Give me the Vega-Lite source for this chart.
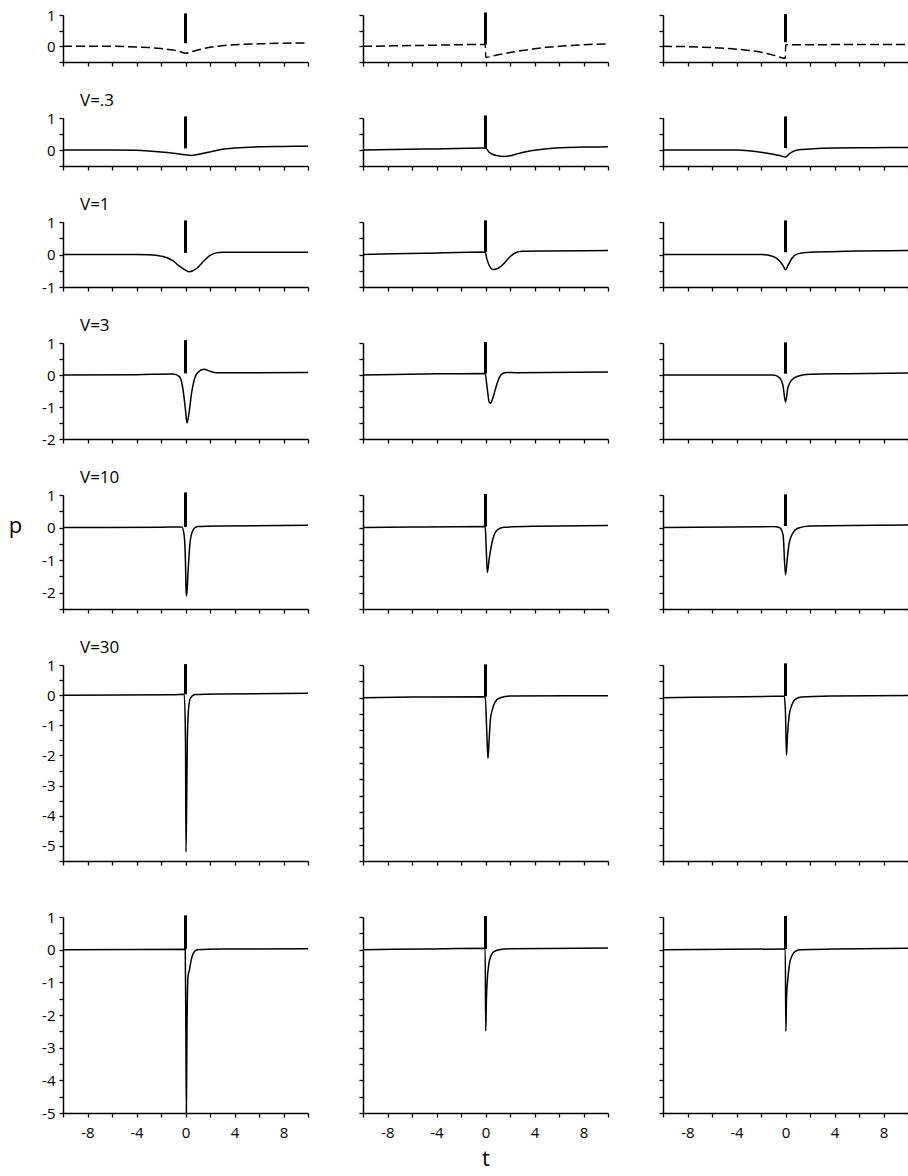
{
"$schema":"https://vega.github.io/schema/vega-lite/v6.json",
"padding":{"left":8,"top":8,"right":0,"bottom":4},
"background":"white",
"bounds":"flush",
"columns":3,
"spacing":{"row":56,"column":55},
"datasets":{
"curves":[
{"r":1,"c":1,"t":-10,"p":0},{"r":1,"c":1,"t":-6,"p":0},{"r":1,"c":1,"t":-4,"p":-0.02},{"r":1,"c":1,"t":-3,"p":-0.04},{"r":1,"c":1,"t":-2,"p":-0.07},{"r":1,"c":1,"t":-1,"p":-0.12},{"r":1,"c":1,"t":-0.5,"p":-0.16},{"r":1,"c":1,"t":0,"p":-0.22},{"r":1,"c":1,"t":0.5,"p":-0.17},{"r":1,"c":1,"t":1,"p":-0.12},{"r":1,"c":1,"t":1.5,"p":-0.07},{"r":1,"c":1,"t":2,"p":-0.03},{"r":1,"c":1,"t":3,"p":0.02},{"r":1,"c":1,"t":4,"p":0.05},{"r":1,"c":1,"t":6,"p":0.08},{"r":1,"c":1,"t":8,"p":0.1},{"r":1,"c":1,"t":10,"p":0.11},
{"r":1,"c":2,"t":-10,"p":0},{"r":1,"c":2,"t":-5,"p":0.03},{"r":1,"c":2,"t":-0.02,"p":0.06},{"r":1,"c":2,"t":0.02,"p":-0.35},{"r":1,"c":2,"t":1,"p":-0.27},{"r":1,"c":2,"t":2,"p":-0.2},{"r":1,"c":2,"t":3,"p":-0.13},{"r":1,"c":2,"t":4,"p":-0.08},{"r":1,"c":2,"t":5,"p":-0.03},{"r":1,"c":2,"t":6,"p":0},{"r":1,"c":2,"t":8,"p":0.05},{"r":1,"c":2,"t":10,"p":0.08},
{"r":1,"c":3,"t":-10,"p":0},{"r":1,"c":3,"t":-8,"p":-0.01},{"r":1,"c":3,"t":-6,"p":-0.04},{"r":1,"c":3,"t":-4,"p":-0.09},{"r":1,"c":3,"t":-3,"p":-0.13},{"r":1,"c":3,"t":-2,"p":-0.19},{"r":1,"c":3,"t":-1,"p":-0.28},{"r":1,"c":3,"t":-0.02,"p":-0.38},{"r":1,"c":3,"t":0.02,"p":0.05},{"r":1,"c":3,"t":2,"p":0.05},{"r":1,"c":3,"t":5,"p":0.06},{"r":1,"c":3,"t":10,"p":0.06},
{"r":2,"c":1,"t":-10,"p":0},{"r":2,"c":1,"t":-6,"p":0},{"r":2,"c":1,"t":-4,"p":-0.01},{"r":2,"c":1,"t":-3,"p":-0.03},{"r":2,"c":1,"t":-2,"p":-0.06},{"r":2,"c":1,"t":-1,"p":-0.1},{"r":2,"c":1,"t":0,"p":-0.15},{"r":2,"c":1,"t":0.5,"p":-0.17},{"r":2,"c":1,"t":1,"p":-0.14},{"r":2,"c":1,"t":2,"p":-0.06},{"r":2,"c":1,"t":3,"p":0.02},{"r":2,"c":1,"t":4,"p":0.06},{"r":2,"c":1,"t":6,"p":0.1},{"r":2,"c":1,"t":8,"p":0.11},{"r":2,"c":1,"t":10,"p":0.12},
{"r":2,"c":2,"t":-10,"p":0},{"r":2,"c":2,"t":-5,"p":0.03},{"r":2,"c":2,"t":0,"p":0.06},{"r":2,"c":2,"t":0.3,"p":-0.07},{"r":2,"c":2,"t":0.6,"p":-0.14},{"r":2,"c":2,"t":1,"p":-0.18},{"r":2,"c":2,"t":1.5,"p":-0.2},{"r":2,"c":2,"t":2,"p":-0.18},{"r":2,"c":2,"t":2.5,"p":-0.13},{"r":2,"c":2,"t":3,"p":-0.08},{"r":2,"c":2,"t":4,"p":-0.01},{"r":2,"c":2,"t":5,"p":0.04},{"r":2,"c":2,"t":6,"p":0.07},{"r":2,"c":2,"t":8,"p":0.09},{"r":2,"c":2,"t":10,"p":0.1},
{"r":2,"c":3,"t":-10,"p":0},{"r":2,"c":3,"t":-4,"p":0},{"r":2,"c":3,"t":-3,"p":-0.02},{"r":2,"c":3,"t":-2,"p":-0.07},{"r":2,"c":3,"t":-1,"p":-0.13},{"r":2,"c":3,"t":-0.5,"p":-0.17},{"r":2,"c":3,"t":0,"p":-0.22},{"r":2,"c":3,"t":0.3,"p":-0.12},{"r":2,"c":3,"t":0.6,"p":-0.05},{"r":2,"c":3,"t":1,"p":0},{"r":2,"c":3,"t":2,"p":0.03},{"r":2,"c":3,"t":4,"p":0.06},{"r":2,"c":3,"t":7,"p":0.07},{"r":2,"c":3,"t":10,"p":0.08},
{"r":3,"c":1,"t":-10,"p":0},{"r":3,"c":1,"t":-4,"p":0},{"r":3,"c":1,"t":-3,"p":-0.01},{"r":3,"c":1,"t":-2,"p":-0.05},{"r":3,"c":1,"t":-1.5,"p":-0.1},{"r":3,"c":1,"t":-1,"p":-0.2},{"r":3,"c":1,"t":-0.5,"p":-0.36},{"r":3,"c":1,"t":0,"p":-0.48},{"r":3,"c":1,"t":0.3,"p":-0.53},{"r":3,"c":1,"t":0.6,"p":-0.5},{"r":3,"c":1,"t":1,"p":-0.4},{"r":3,"c":1,"t":1.5,"p":-0.2},{"r":3,"c":1,"t":2,"p":-0.03},{"r":3,"c":1,"t":2.5,"p":0.05},{"r":3,"c":1,"t":3,"p":0.07},{"r":3,"c":1,"t":5,"p":0.07},{"r":3,"c":1,"t":10,"p":0.07},
{"r":3,"c":2,"t":-10,"p":0},{"r":3,"c":2,"t":-5,"p":0.04},{"r":3,"c":2,"t":-0.02,"p":0.08},{"r":3,"c":2,"t":0.1,"p":-0.12},{"r":3,"c":2,"t":0.3,"p":-0.33},{"r":3,"c":2,"t":0.6,"p":-0.46},{"r":3,"c":2,"t":1,"p":-0.43},{"r":3,"c":2,"t":1.5,"p":-0.28},{"r":3,"c":2,"t":2,"p":-0.07},{"r":3,"c":2,"t":2.5,"p":0.06},{"r":3,"c":2,"t":3,"p":0.1},{"r":3,"c":2,"t":5,"p":0.11},{"r":3,"c":2,"t":10,"p":0.12},
{"r":3,"c":3,"t":-10,"p":0},{"r":3,"c":3,"t":-2,"p":0},{"r":3,"c":3,"t":-1,"p":-0.06},{"r":3,"c":3,"t":-0.5,"p":-0.19},{"r":3,"c":3,"t":-0.2,"p":-0.34},{"r":3,"c":3,"t":0,"p":-0.47},{"r":3,"c":3,"t":0.2,"p":-0.34},{"r":3,"c":3,"t":0.5,"p":-0.13},{"r":3,"c":3,"t":1,"p":0.02},{"r":3,"c":3,"t":2,"p":0.07},{"r":3,"c":3,"t":5,"p":0.1},{"r":3,"c":3,"t":10,"p":0.12},
{"r":4,"c":1,"t":-10,"p":0},{"r":4,"c":1,"t":-4,"p":0.01},{"r":4,"c":1,"t":-1,"p":0.03},{"r":4,"c":1,"t":-0.5,"p":-0.05},{"r":4,"c":1,"t":-0.3,"p":-0.25},{"r":4,"c":1,"t":-0.15,"p":-0.6},{"r":4,"c":1,"t":0,"p":-1.1},{"r":4,"c":1,"t":0.12,"p":-1.5},{"r":4,"c":1,"t":0.3,"p":-1.15},{"r":4,"c":1,"t":0.5,"p":-0.55},{"r":4,"c":1,"t":0.75,"p":-0.1},{"r":4,"c":1,"t":1,"p":0.08},{"r":4,"c":1,"t":1.5,"p":0.18},{"r":4,"c":1,"t":2,"p":0.12},{"r":4,"c":1,"t":2.5,"p":0.07},{"r":4,"c":1,"t":4,"p":0.07},{"r":4,"c":1,"t":10,"p":0.08},
{"r":4,"c":2,"t":-10,"p":0},{"r":4,"c":2,"t":-5,"p":0.03},{"r":4,"c":2,"t":-0.02,"p":0.05},{"r":4,"c":2,"t":0.1,"p":-0.29},{"r":4,"c":2,"t":0.2,"p":-0.6},{"r":4,"c":2,"t":0.3,"p":-0.85},{"r":4,"c":2,"t":0.4,"p":-0.88},{"r":4,"c":2,"t":0.6,"p":-0.72},{"r":4,"c":2,"t":0.8,"p":-0.45},{"r":4,"c":2,"t":1,"p":-0.2},{"r":4,"c":2,"t":1.3,"p":0.02},{"r":4,"c":2,"t":1.7,"p":0.08},{"r":4,"c":2,"t":2.5,"p":0.07},{"r":4,"c":2,"t":10,"p":0.09},
{"r":4,"c":3,"t":-10,"p":0},{"r":4,"c":3,"t":-1,"p":0},{"r":4,"c":3,"t":-0.5,"p":-0.08},{"r":4,"c":3,"t":-0.2,"p":-0.34},{"r":4,"c":3,"t":0,"p":-0.85},{"r":4,"c":3,"t":0.2,"p":-0.39},{"r":4,"c":3,"t":0.5,"p":-0.16},{"r":4,"c":3,"t":1,"p":-0.04},{"r":4,"c":3,"t":2,"p":0.02},{"r":4,"c":3,"t":5,"p":0.04},{"r":4,"c":3,"t":10,"p":0.06},
{"r":5,"c":1,"t":-10,"p":0},{"r":5,"c":1,"t":-2,"p":0.01},{"r":5,"c":1,"t":-0.3,"p":0.02},{"r":5,"c":1,"t":-0.1,"p":-0.26},{"r":5,"c":1,"t":0,"p":-1.1},{"r":5,"c":1,"t":0.05,"p":-1.95},{"r":5,"c":1,"t":0.1,"p":-2.1},{"r":5,"c":1,"t":0.2,"p":-1.42},{"r":5,"c":1,"t":0.4,"p":-0.37},{"r":5,"c":1,"t":0.7,"p":-0.03},{"r":5,"c":1,"t":1,"p":0.03},{"r":5,"c":1,"t":3,"p":0.05},{"r":5,"c":1,"t":10,"p":0.07},
{"r":5,"c":2,"t":-10,"p":0},{"r":5,"c":2,"t":-5,"p":0.02},{"r":5,"c":2,"t":-0.02,"p":0.03},{"r":5,"c":2,"t":0.05,"p":-0.55},{"r":5,"c":2,"t":0.15,"p":-1.38},{"r":5,"c":2,"t":0.3,"p":-0.96},{"r":5,"c":2,"t":0.6,"p":-0.35},{"r":5,"c":2,"t":1,"p":-0.06},{"r":5,"c":2,"t":1.5,"p":0.01},{"r":5,"c":2,"t":4,"p":0.04},{"r":5,"c":2,"t":10,"p":0.06},
{"r":5,"c":3,"t":-10,"p":0},{"r":5,"c":3,"t":-1,"p":0.03},{"r":5,"c":3,"t":-0.5,"p":0},{"r":5,"c":3,"t":-0.2,"p":-0.22},{"r":5,"c":3,"t":0,"p":-1.45},{"r":5,"c":3,"t":0.15,"p":-0.94},{"r":5,"c":3,"t":0.3,"p":-0.48},{"r":5,"c":3,"t":0.6,"p":-0.17},{"r":5,"c":3,"t":1,"p":-0.02},{"r":5,"c":3,"t":2,"p":0.05},{"r":5,"c":3,"t":10,"p":0.08},
{"r":6,"c":1,"t":-10,"p":0},{"r":6,"c":1,"t":-1,"p":0.01},{"r":6,"c":1,"t":-0.1,"p":0.03},{"r":6,"c":1,"t":0,"p":-1.5},{"r":6,"c":1,"t":0.04,"p":-5.2},{"r":6,"c":1,"t":0.1,"p":-3.4},{"r":6,"c":1,"t":0.15,"p":-1.5},{"r":6,"c":1,"t":0.25,"p":-0.45},{"r":6,"c":1,"t":0.4,"p":-0.1},{"r":6,"c":1,"t":0.8,"p":0.02},{"r":6,"c":1,"t":3,"p":0.04},{"r":6,"c":1,"t":10,"p":0.06},
{"r":6,"c":2,"t":-10,"p":0},{"r":6,"c":2,"t":-5,"p":0.02},{"r":6,"c":2,"t":-0.02,"p":0.03},{"r":6,"c":2,"t":0.1,"p":-1.0},{"r":6,"c":2,"t":0.2,"p":-1.86},{"r":6,"c":2,"t":0.28,"p":-1.4},{"r":6,"c":2,"t":0.4,"p":-0.68},{"r":6,"c":2,"t":0.55,"p":-0.38},{"r":6,"c":2,"t":0.8,"p":-0.12},{"r":6,"c":2,"t":1.2,"p":0},{"r":6,"c":2,"t":2,"p":0.05},{"r":6,"c":2,"t":10,"p":0.06},
{"r":6,"c":3,"t":-10,"p":0},{"r":6,"c":3,"t":-1,"p":0.04},{"r":6,"c":3,"t":-0.1,"p":0.04},{"r":6,"c":3,"t":0,"p":-0.5},{"r":6,"c":3,"t":0.08,"p":-1.76},{"r":6,"c":3,"t":0.16,"p":-1.16},{"r":6,"c":3,"t":0.3,"p":-0.55},{"r":6,"c":3,"t":0.5,"p":-0.24},{"r":6,"c":3,"t":0.76,"p":-0.06},{"r":6,"c":3,"t":1.3,"p":0.02},{"r":6,"c":3,"t":4,"p":0.05},{"r":6,"c":3,"t":10,"p":0.07},
{"r":7,"c":1,"t":-10,"p":0},{"r":7,"c":1,"t":-0.02,"p":0.01},{"r":7,"c":1,"t":0.03,"p":-2.5},{"r":7,"c":1,"t":0.07,"p":-5.0},{"r":7,"c":1,"t":0.12,"p":-2.5},{"r":7,"c":1,"t":0.2,"p":-0.85},{"r":7,"c":1,"t":0.33,"p":-0.6},{"r":7,"c":1,"t":0.47,"p":-0.31},{"r":7,"c":1,"t":0.66,"p":-0.1},{"r":7,"c":1,"t":0.94,"p":0},{"r":7,"c":1,"t":3,"p":0.02},{"r":7,"c":1,"t":10,"p":0.03},
{"r":7,"c":2,"t":-10,"p":0},{"r":7,"c":2,"t":-5,"p":0.02},{"r":7,"c":2,"t":-0.03,"p":0.04},{"r":7,"c":2,"t":0.02,"p":-2.49},{"r":7,"c":2,"t":0.07,"p":-1.57},{"r":7,"c":2,"t":0.14,"p":-0.95},{"r":7,"c":2,"t":0.27,"p":-0.44},{"r":7,"c":2,"t":0.46,"p":-0.18},{"r":7,"c":2,"t":0.73,"p":-0.05},{"r":7,"c":2,"t":1.1,"p":0},{"r":7,"c":2,"t":2,"p":0.03},{"r":7,"c":2,"t":10,"p":0.05},
{"r":7,"c":3,"t":-10,"p":0},{"r":7,"c":3,"t":-0.1,"p":0.02},{"r":7,"c":3,"t":-0.02,"p":0.02},{"r":7,"c":3,"t":0.03,"p":-2.5},{"r":7,"c":3,"t":0.08,"p":-1.52},{"r":7,"c":3,"t":0.19,"p":-0.9},{"r":7,"c":3,"t":0.33,"p":-0.44},{"r":7,"c":3,"t":0.54,"p":-0.18},{"r":7,"c":3,"t":0.8,"p":-0.05},{"r":7,"c":3,"t":1.2,"p":0},{"r":7,"c":3,"t":4,"p":0.02},{"r":7,"c":3,"t":10,"p":0.04}
],
"bars":[
{"r":1,"c":1,"t":0,"p":0.1,"p2":1.05},{"r":1,"c":2,"t":0,"p":0.06,"p2":1.08},{"r":1,"c":3,"t":0,"p":0.13,"p2":1.03},
{"r":2,"c":1,"t":0,"p":0.05,"p2":1.05},{"r":2,"c":2,"t":0,"p":0.06,"p2":1.08},{"r":2,"c":3,"t":0,"p":0.06,"p2":1.05},
{"r":3,"c":1,"t":0,"p":0.05,"p2":1.05},{"r":3,"c":2,"t":0,"p":0.08,"p2":1.05},{"r":3,"c":3,"t":0,"p":0.07,"p2":1.05},
{"r":4,"c":1,"t":0,"p":0.05,"p2":1.09},{"r":4,"c":2,"t":0,"p":0.05,"p2":1.03},{"r":4,"c":3,"t":0,"p":0.04,"p2":1.02},
{"r":5,"c":1,"t":0,"p":0.02,"p2":1.08},{"r":5,"c":2,"t":0,"p":0.03,"p2":1.03},{"r":5,"c":3,"t":0,"p":0.05,"p2":1.02},
{"r":6,"c":1,"t":0,"p":0.03,"p2":1.03},{"r":6,"c":2,"t":0,"p":0.03,"p2":1.02},{"r":6,"c":3,"t":0,"p":0.05,"p2":1.05},
{"r":7,"c":1,"t":0,"p":0.02,"p2":1.05},{"r":7,"c":2,"t":0,"p":0.02,"p2":1.03},{"r":7,"c":3,"t":0,"p":0.02,"p2":1.03}
]
},
"concat":[
{"width":245,"height":47,
"encoding":{"x":{"field":"t","type":"quantitative","scale":{"domain":[-10,10],"nice":false,"zero":false},"axis":{"values":[-10,-8,-6,-4,-2,0,2,4,6,8,10],"labels":false,"title":null}},
"y":{"field":"p","type":"quantitative","scale":{"domain":[-0.5,1],"nice":false,"zero":false},"axis":{"values":[-0.5,0,0.5,1],"labelExpr":"datum.value % 1 === 0 ? '' + datum.value : ''","title":null}}},
"layer":[
{"data":{"name":"curves"},"transform":[{"filter":"datum.r===1&&datum.c===1"}],"mark":{"type":"line","color":"#000","strokeWidth":1.5,"interpolate":"monotone","strokeDash":[9,4]},"encoding":{}},
{"data":{"name":"bars"},"transform":[{"filter":"datum.r===1&&datum.c===1"}],"mark":{"type":"rule","color":"#000","strokeWidth":3},"encoding":{"y2":{"field":"p2"}}}]},
{"width":245,"height":47,
"encoding":{"x":{"field":"t","type":"quantitative","scale":{"domain":[-10,10],"nice":false,"zero":false},"axis":{"values":[-10,-8,-6,-4,-2,0,2,4,6,8,10],"labels":false,"title":null}},
"y":{"field":"p","type":"quantitative","scale":{"domain":[-0.5,1],"nice":false,"zero":false},"axis":{"values":[-0.5,0,0.5,1],"labels":false,"title":null}}},
"layer":[
{"data":{"name":"curves"},"transform":[{"filter":"datum.r===1&&datum.c===2"}],"mark":{"type":"line","color":"#000","strokeWidth":1.5,"interpolate":"monotone","strokeDash":[9,4]},"encoding":{}},
{"data":{"name":"bars"},"transform":[{"filter":"datum.r===1&&datum.c===2"}],"mark":{"type":"rule","color":"#000","strokeWidth":3},"encoding":{"y2":{"field":"p2"}}}]},
{"width":245,"height":47,
"encoding":{"x":{"field":"t","type":"quantitative","scale":{"domain":[-10,10],"nice":false,"zero":false},"axis":{"values":[-10,-8,-6,-4,-2,0,2,4,6,8,10],"labels":false,"title":null}},
"y":{"field":"p","type":"quantitative","scale":{"domain":[-0.5,1],"nice":false,"zero":false},"axis":{"values":[-0.5,0,0.5,1],"labels":false,"title":null}}},
"layer":[
{"data":{"name":"curves"},"transform":[{"filter":"datum.r===1&&datum.c===3"}],"mark":{"type":"line","color":"#000","strokeWidth":1.5,"interpolate":"monotone","strokeDash":[9,4]},"encoding":{}},
{"data":{"name":"bars"},"transform":[{"filter":"datum.r===1&&datum.c===3"}],"mark":{"type":"rule","color":"#000","strokeWidth":3},"encoding":{"y2":{"field":"p2"}}}]},
{"width":245,"height":48,"title":{"text":"V=.3"},
"encoding":{"x":{"field":"t","type":"quantitative","scale":{"domain":[-10,10],"nice":false,"zero":false},"axis":{"values":[-10,-8,-6,-4,-2,0,2,4,6,8,10],"labels":false,"title":null}},
"y":{"field":"p","type":"quantitative","scale":{"domain":[-0.5,1],"nice":false,"zero":false},"axis":{"values":[-0.5,0,0.5,1],"labelExpr":"datum.value % 1 === 0 ? '' + datum.value : ''","title":null}}},
"layer":[
{"data":{"name":"curves"},"transform":[{"filter":"datum.r===2&&datum.c===1"}],"mark":{"type":"line","color":"#000","strokeWidth":1.5,"interpolate":"monotone"},"encoding":{}},
{"data":{"name":"bars"},"transform":[{"filter":"datum.r===2&&datum.c===1"}],"mark":{"type":"rule","color":"#000","strokeWidth":3},"encoding":{"y2":{"field":"p2"}}}]},
{"width":245,"height":48,
"encoding":{"x":{"field":"t","type":"quantitative","scale":{"domain":[-10,10],"nice":false,"zero":false},"axis":{"values":[-10,-8,-6,-4,-2,0,2,4,6,8,10],"labels":false,"title":null}},
"y":{"field":"p","type":"quantitative","scale":{"domain":[-0.5,1],"nice":false,"zero":false},"axis":{"values":[-0.5,0,0.5,1],"labels":false,"title":null}}},
"layer":[
{"data":{"name":"curves"},"transform":[{"filter":"datum.r===2&&datum.c===2"}],"mark":{"type":"line","color":"#000","strokeWidth":1.5,"interpolate":"monotone"},"encoding":{}},
{"data":{"name":"bars"},"transform":[{"filter":"datum.r===2&&datum.c===2"}],"mark":{"type":"rule","color":"#000","strokeWidth":3},"encoding":{"y2":{"field":"p2"}}}]},
{"width":245,"height":48,
"encoding":{"x":{"field":"t","type":"quantitative","scale":{"domain":[-10,10],"nice":false,"zero":false},"axis":{"values":[-10,-8,-6,-4,-2,0,2,4,6,8,10],"labels":false,"title":null}},
"y":{"field":"p","type":"quantitative","scale":{"domain":[-0.5,1],"nice":false,"zero":false},"axis":{"values":[-0.5,0,0.5,1],"labels":false,"title":null}}},
"layer":[
{"data":{"name":"curves"},"transform":[{"filter":"datum.r===2&&datum.c===3"}],"mark":{"type":"line","color":"#000","strokeWidth":1.5,"interpolate":"monotone"},"encoding":{}},
{"data":{"name":"bars"},"transform":[{"filter":"datum.r===2&&datum.c===3"}],"mark":{"type":"rule","color":"#000","strokeWidth":3},"encoding":{"y2":{"field":"p2"}}}]},
{"width":245,"height":65,"title":{"text":"V=1"},
"encoding":{"x":{"field":"t","type":"quantitative","scale":{"domain":[-10,10],"nice":false,"zero":false},"axis":{"values":[-10,-8,-6,-4,-2,0,2,4,6,8,10],"labels":false,"title":null}},
"y":{"field":"p","type":"quantitative","scale":{"domain":[-1,1],"nice":false,"zero":false},"axis":{"values":[-1,-0.5,0,0.5,1],"labelExpr":"datum.value % 1 === 0 ? '' + datum.value : ''","title":null}}},
"layer":[
{"data":{"name":"curves"},"transform":[{"filter":"datum.r===3&&datum.c===1"}],"mark":{"type":"line","color":"#000","strokeWidth":1.5,"interpolate":"monotone"},"encoding":{}},
{"data":{"name":"bars"},"transform":[{"filter":"datum.r===3&&datum.c===1"}],"mark":{"type":"rule","color":"#000","strokeWidth":3},"encoding":{"y2":{"field":"p2"}}}]},
{"width":245,"height":65,
"encoding":{"x":{"field":"t","type":"quantitative","scale":{"domain":[-10,10],"nice":false,"zero":false},"axis":{"values":[-10,-8,-6,-4,-2,0,2,4,6,8,10],"labels":false,"title":null}},
"y":{"field":"p","type":"quantitative","scale":{"domain":[-1,1],"nice":false,"zero":false},"axis":{"values":[-1,-0.5,0,0.5,1],"labels":false,"title":null}}},
"layer":[
{"data":{"name":"curves"},"transform":[{"filter":"datum.r===3&&datum.c===2"}],"mark":{"type":"line","color":"#000","strokeWidth":1.5,"interpolate":"monotone"},"encoding":{}},
{"data":{"name":"bars"},"transform":[{"filter":"datum.r===3&&datum.c===2"}],"mark":{"type":"rule","color":"#000","strokeWidth":3},"encoding":{"y2":{"field":"p2"}}}]},
{"width":245,"height":65,
"encoding":{"x":{"field":"t","type":"quantitative","scale":{"domain":[-10,10],"nice":false,"zero":false},"axis":{"values":[-10,-8,-6,-4,-2,0,2,4,6,8,10],"labels":false,"title":null}},
"y":{"field":"p","type":"quantitative","scale":{"domain":[-1,1],"nice":false,"zero":false},"axis":{"values":[-1,-0.5,0,0.5,1],"labels":false,"title":null}}},
"layer":[
{"data":{"name":"curves"},"transform":[{"filter":"datum.r===3&&datum.c===3"}],"mark":{"type":"line","color":"#000","strokeWidth":1.5,"interpolate":"monotone"},"encoding":{}},
{"data":{"name":"bars"},"transform":[{"filter":"datum.r===3&&datum.c===3"}],"mark":{"type":"rule","color":"#000","strokeWidth":3},"encoding":{"y2":{"field":"p2"}}}]},
{"width":245,"height":96,"title":{"text":"V=3"},
"encoding":{"x":{"field":"t","type":"quantitative","scale":{"domain":[-10,10],"nice":false,"zero":false},"axis":{"values":[-10,-8,-6,-4,-2,0,2,4,6,8,10],"labels":false,"title":null}},
"y":{"field":"p","type":"quantitative","scale":{"domain":[-2,1],"nice":false,"zero":false},"axis":{"values":[-2,-1.5,-1,-0.5,0,0.5,1],"labelExpr":"datum.value % 1 === 0 ? '' + datum.value : ''","title":null}}},
"layer":[
{"data":{"name":"curves"},"transform":[{"filter":"datum.r===4&&datum.c===1"}],"mark":{"type":"line","color":"#000","strokeWidth":1.5,"interpolate":"monotone"},"encoding":{}},
{"data":{"name":"bars"},"transform":[{"filter":"datum.r===4&&datum.c===1"}],"mark":{"type":"rule","color":"#000","strokeWidth":3},"encoding":{"y2":{"field":"p2"}}}]},
{"width":245,"height":96,
"encoding":{"x":{"field":"t","type":"quantitative","scale":{"domain":[-10,10],"nice":false,"zero":false},"axis":{"values":[-10,-8,-6,-4,-2,0,2,4,6,8,10],"labels":false,"title":null}},
"y":{"field":"p","type":"quantitative","scale":{"domain":[-2,1],"nice":false,"zero":false},"axis":{"values":[-2,-1.5,-1,-0.5,0,0.5,1],"labels":false,"title":null}}},
"layer":[
{"data":{"name":"curves"},"transform":[{"filter":"datum.r===4&&datum.c===2"}],"mark":{"type":"line","color":"#000","strokeWidth":1.5,"interpolate":"monotone"},"encoding":{}},
{"data":{"name":"bars"},"transform":[{"filter":"datum.r===4&&datum.c===2"}],"mark":{"type":"rule","color":"#000","strokeWidth":3},"encoding":{"y2":{"field":"p2"}}}]},
{"width":245,"height":96,
"encoding":{"x":{"field":"t","type":"quantitative","scale":{"domain":[-10,10],"nice":false,"zero":false},"axis":{"values":[-10,-8,-6,-4,-2,0,2,4,6,8,10],"labels":false,"title":null}},
"y":{"field":"p","type":"quantitative","scale":{"domain":[-2,1],"nice":false,"zero":false},"axis":{"values":[-2,-1.5,-1,-0.5,0,0.5,1],"labels":false,"title":null}}},
"layer":[
{"data":{"name":"curves"},"transform":[{"filter":"datum.r===4&&datum.c===3"}],"mark":{"type":"line","color":"#000","strokeWidth":1.5,"interpolate":"monotone"},"encoding":{}},
{"data":{"name":"bars"},"transform":[{"filter":"datum.r===4&&datum.c===3"}],"mark":{"type":"rule","color":"#000","strokeWidth":3},"encoding":{"y2":{"field":"p2"}}}]},
{"width":245,"height":114,"title":{"text":"V=10"},
"encoding":{"x":{"field":"t","type":"quantitative","scale":{"domain":[-10,10],"nice":false,"zero":false},"axis":{"values":[-10,-8,-6,-4,-2,0,2,4,6,8,10],"labels":false,"title":null}},
"y":{"field":"p","type":"quantitative","scale":{"domain":[-2.5,1],"nice":false,"zero":false},"axis":{"values":[-2.5,-2,-1.5,-1,-0.5,0,0.5,1],"labelExpr":"datum.value % 1 === 0 ? '' + datum.value : ''","title":"p","titleAngle":0,"titleX":-48,"titleY":37,"titleAlign":"center","titleBaseline":"alphabetic","titleFontSize":22}}},
"layer":[
{"data":{"name":"curves"},"transform":[{"filter":"datum.r===5&&datum.c===1"}],"mark":{"type":"line","color":"#000","strokeWidth":1.5,"interpolate":"monotone"},"encoding":{}},
{"data":{"name":"bars"},"transform":[{"filter":"datum.r===5&&datum.c===1"}],"mark":{"type":"rule","color":"#000","strokeWidth":3},"encoding":{"y2":{"field":"p2"}}}]},
{"width":245,"height":114,
"encoding":{"x":{"field":"t","type":"quantitative","scale":{"domain":[-10,10],"nice":false,"zero":false},"axis":{"values":[-10,-8,-6,-4,-2,0,2,4,6,8,10],"labels":false,"title":null}},
"y":{"field":"p","type":"quantitative","scale":{"domain":[-2.5,1],"nice":false,"zero":false},"axis":{"values":[-2.5,-2,-1.5,-1,-0.5,0,0.5,1],"labels":false,"title":null}}},
"layer":[
{"data":{"name":"curves"},"transform":[{"filter":"datum.r===5&&datum.c===2"}],"mark":{"type":"line","color":"#000","strokeWidth":1.5,"interpolate":"monotone"},"encoding":{}},
{"data":{"name":"bars"},"transform":[{"filter":"datum.r===5&&datum.c===2"}],"mark":{"type":"rule","color":"#000","strokeWidth":3},"encoding":{"y2":{"field":"p2"}}}]},
{"width":245,"height":114,
"encoding":{"x":{"field":"t","type":"quantitative","scale":{"domain":[-10,10],"nice":false,"zero":false},"axis":{"values":[-10,-8,-6,-4,-2,0,2,4,6,8,10],"labels":false,"title":null}},
"y":{"field":"p","type":"quantitative","scale":{"domain":[-2.5,1],"nice":false,"zero":false},"axis":{"values":[-2.5,-2,-1.5,-1,-0.5,0,0.5,1],"labels":false,"title":null}}},
"layer":[
{"data":{"name":"curves"},"transform":[{"filter":"datum.r===5&&datum.c===3"}],"mark":{"type":"line","color":"#000","strokeWidth":1.5,"interpolate":"monotone"},"encoding":{}},
{"data":{"name":"bars"},"transform":[{"filter":"datum.r===5&&datum.c===3"}],"mark":{"type":"rule","color":"#000","strokeWidth":3},"encoding":{"y2":{"field":"p2"}}}]},
{"width":245,"height":196,"title":{"text":"V=30"},
"encoding":{"x":{"field":"t","type":"quantitative","scale":{"domain":[-10,10],"nice":false,"zero":false},"axis":{"values":[-10,-8,-6,-4,-2,0,2,4,6,8,10],"labels":false,"title":null}},
"y":{"field":"p","type":"quantitative","scale":{"domain":[-5.5,1],"nice":false,"zero":false},"axis":{"values":[-5.5,-5,-4.5,-4,-3.5,-3,-2.5,-2,-1.5,-1,-0.5,0,0.5,1],"labelExpr":"datum.value % 1 === 0 ? '' + datum.value : ''","title":null}}},
"layer":[
{"data":{"name":"curves"},"transform":[{"filter":"datum.r===6&&datum.c===1"}],"mark":{"type":"line","color":"#000","strokeWidth":1.5,"interpolate":"monotone"},"encoding":{}},
{"data":{"name":"bars"},"transform":[{"filter":"datum.r===6&&datum.c===1"}],"mark":{"type":"rule","color":"#000","strokeWidth":3},"encoding":{"y2":{"field":"p2"}}}]},
{"width":245,"height":196,
"encoding":{"x":{"field":"t","type":"quantitative","scale":{"domain":[-10,10],"nice":false,"zero":false},"axis":{"values":[-10,-8,-6,-4,-2,0,2,4,6,8,10],"labels":false,"title":null}},
"y":{"field":"p","type":"quantitative","scale":{"domain":[-5,1],"nice":false,"zero":false},"axis":{"values":[-5,-4.5,-4,-3.5,-3,-2.5,-2,-1.5,-1,-0.5,0,0.5,1],"labels":false,"title":null}}},
"layer":[
{"data":{"name":"curves"},"transform":[{"filter":"datum.r===6&&datum.c===2"}],"mark":{"type":"line","color":"#000","strokeWidth":1.5,"interpolate":"monotone"},"encoding":{}},
{"data":{"name":"bars"},"transform":[{"filter":"datum.r===6&&datum.c===2"}],"mark":{"type":"rule","color":"#000","strokeWidth":3},"encoding":{"y2":{"field":"p2"}}}]},
{"width":245,"height":196,
"encoding":{"x":{"field":"t","type":"quantitative","scale":{"domain":[-10,10],"nice":false,"zero":false},"axis":{"values":[-10,-8,-6,-4,-2,0,2,4,6,8,10],"labels":false,"title":null}},
"y":{"field":"p","type":"quantitative","scale":{"domain":[-5,1],"nice":false,"zero":false},"axis":{"values":[-5,-4.5,-4,-3.5,-3,-2.5,-2,-1.5,-1,-0.5,0,0.5,1],"labels":false,"title":null}}},
"layer":[
{"data":{"name":"curves"},"transform":[{"filter":"datum.r===6&&datum.c===3"}],"mark":{"type":"line","color":"#000","strokeWidth":1.5,"interpolate":"monotone"},"encoding":{}},
{"data":{"name":"bars"},"transform":[{"filter":"datum.r===6&&datum.c===3"}],"mark":{"type":"rule","color":"#000","strokeWidth":3},"encoding":{"y2":{"field":"p2"}}}]},
{"width":245,"height":196,
"encoding":{"x":{"field":"t","type":"quantitative","scale":{"domain":[-10,10],"nice":false,"zero":false},"axis":{"values":[-10,-8,-6,-4,-2,0,2,4,6,8,10],"labelExpr":"datum.value % 4 === 0 ? '' + datum.value : ''","title":null}},
"y":{"field":"p","type":"quantitative","scale":{"domain":[-5,1],"nice":false,"zero":false},"axis":{"values":[-5,-4.5,-4,-3.5,-3,-2.5,-2,-1.5,-1,-0.5,0,0.5,1],"labelExpr":"datum.value % 1 === 0 ? '' + datum.value : ''","title":null}}},
"layer":[
{"data":{"name":"curves"},"transform":[{"filter":"datum.r===7&&datum.c===1"}],"mark":{"type":"line","color":"#000","strokeWidth":1.5,"interpolate":"monotone"},"encoding":{}},
{"data":{"name":"bars"},"transform":[{"filter":"datum.r===7&&datum.c===1"}],"mark":{"type":"rule","color":"#000","strokeWidth":3},"encoding":{"y2":{"field":"p2"}}}]},
{"width":245,"height":196,
"encoding":{"x":{"field":"t","type":"quantitative","scale":{"domain":[-10,10],"nice":false,"zero":false},"axis":{"values":[-10,-8,-6,-4,-2,0,2,4,6,8,10],"labelExpr":"datum.value % 4 === 0 ? '' + datum.value : ''","title":"t","titleFontSize":22,"titlePadding":8}},
"y":{"field":"p","type":"quantitative","scale":{"domain":[-5,1],"nice":false,"zero":false},"axis":{"values":[-5,-4.5,-4,-3.5,-3,-2.5,-2,-1.5,-1,-0.5,0,0.5,1],"labels":false,"title":null}}},
"layer":[
{"data":{"name":"curves"},"transform":[{"filter":"datum.r===7&&datum.c===2"}],"mark":{"type":"line","color":"#000","strokeWidth":1.5,"interpolate":"monotone"},"encoding":{}},
{"data":{"name":"bars"},"transform":[{"filter":"datum.r===7&&datum.c===2"}],"mark":{"type":"rule","color":"#000","strokeWidth":3},"encoding":{"y2":{"field":"p2"}}}]},
{"width":245,"height":196,
"encoding":{"x":{"field":"t","type":"quantitative","scale":{"domain":[-10,10],"nice":false,"zero":false},"axis":{"values":[-10,-8,-6,-4,-2,0,2,4,6,8,10],"labelExpr":"datum.value % 4 === 0 ? '' + datum.value : ''","title":null}},
"y":{"field":"p","type":"quantitative","scale":{"domain":[-5,1],"nice":false,"zero":false},"axis":{"values":[-5,-4.5,-4,-3.5,-3,-2.5,-2,-1.5,-1,-0.5,0,0.5,1],"labels":false,"title":null}}},
"layer":[
{"data":{"name":"curves"},"transform":[{"filter":"datum.r===7&&datum.c===3"}],"mark":{"type":"line","color":"#000","strokeWidth":1.5,"interpolate":"monotone"},"encoding":{}},
{"data":{"name":"bars"},"transform":[{"filter":"datum.r===7&&datum.c===3"}],"mark":{"type":"rule","color":"#000","strokeWidth":3},"encoding":{"y2":{"field":"p2"}}}]}
],
"config":{
"view":{"stroke":null},
"axis":{"domainColor":"#000","domainWidth":1.5,"tickColor":"#000","tickWidth":1.3,"tickSize":4,"labelColor":"#000","labelFont":"Open Sans","labelFontSize":15,"titleFont":"Open Sans","titleColor":"#000","titleFontWeight":"normal","grid":false,"labelFlush":false,"labelOverlap":false,"labelBound":false},
"axisX":{"labelPadding":8},
"axisY":{"labelPadding":4},
"title":{"font":"Open Sans","fontSize":17,"fontWeight":"normal","anchor":"start","frame":"group","color":"#000","baseline":"alphabetic","dx":17,"offset":1}
}
}
